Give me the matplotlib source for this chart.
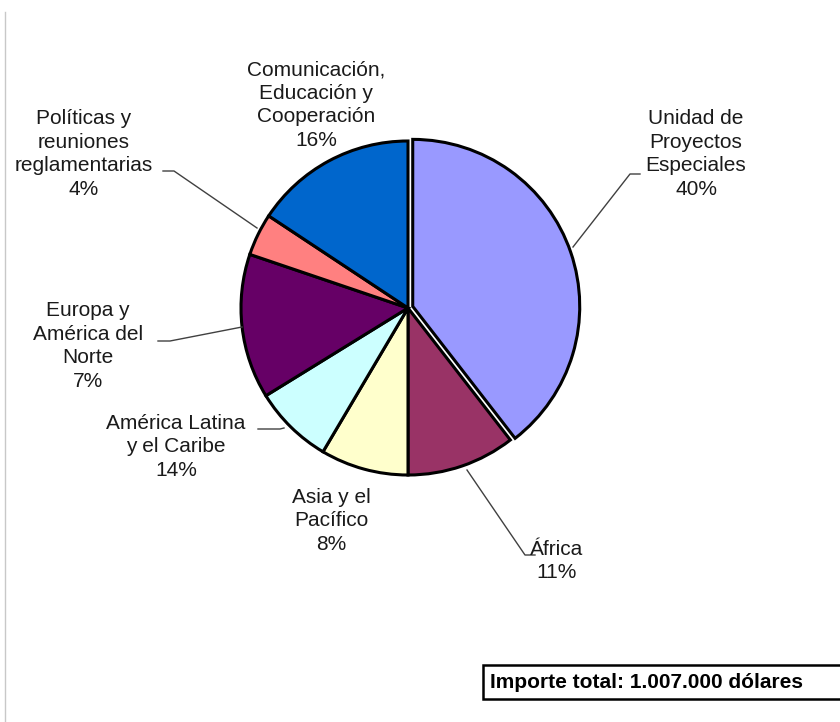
import matplotlib.pyplot as plt
from matplotlib.patches import Rectangle

plt.rcParams['font.family'] = ['Liberation Sans', 'DejaVu Sans']

# slice shares (clockwise from 12 o'clock)
shares = [39.5, 10.5, 8.5, 7.7, 14.0, 4.1, 15.7]
colors = ['#9999FF', '#993366', '#FFFFCC', '#CCFFFF', '#660066', '#FF8080', '#0066CC']
# label texts exactly as printed in the chart
labels = ['Unidad de\nProyectos\nEspeciales\n40%',
          'África\n11%',
          'Asia y el\nPacífico\n8%',
          'América Latina\ny el Caribe\n14%',
          'Europa y\nAmérica del\nNorte\n7%',
          'Políticas y\nreuniones\nreglamentarias\n4%',
          'Comunicación,\nEducación y\nCooperación\n16%']
total_text = 'Importe total: 1.007.000 dólares'

W, H = 840, 722
fig = plt.figure(figsize=(W / 100, H / 100), dpi=100)
ax = fig.add_axes([0, 0, 1, 1])


def Y(y):
    return H - y


ax.pie(shares, colors=colors, startangle=90, counterclock=False,
       center=(408, Y(308)), radius=167, explode=[5, 0, 0, 0, 0, 0, 0],
       wedgeprops=dict(edgecolor='black', linewidth=2.2), frame=True)
ax.set_xlim(0, W)
ax.set_ylim(0, H)
ax.set_aspect('equal')
ax.axis('off')

# label positions (center of text block) and leader lines, in pixel coords
label_pos = [(696, 154), (557, 561), (331, 521), (176, 447),
             (88, 346), (84, 154), (316, 105)]
leaders = [[(573, 247), (630, 174), (640, 174)],
           [(467, 470), (525, 555), (535, 555)],
           None,
           [(258, 429), (280, 429), (284, 428)],
           [(158, 341), (170, 341), (242, 327)],
           [(163, 171), (174, 171), (257, 228)],
           None]

for lab, (x, y), ld in zip(labels, label_pos, leaders):
    ax.text(x, Y(y), lab, ha='center', va='center', fontsize=15,
            color='#1a1a1a', linespacing=1.3)
    if ld:
        ax.plot([p[0] for p in ld], [Y(p[1]) for p in ld],
                color='#404040', lw=1)

# faint frame line at left
ax.plot([5, 5], [Y(12), Y(722)], color='#c8c8c8', lw=1)

# total box, running off the right edge
ax.add_patch(Rectangle((483, Y(699)), 400, 34, facecolor='white',
                       edgecolor='black', linewidth=1.8))
ax.text(490, Y(682), total_text, ha='left', va='center', fontsize=15,
        fontweight='bold', color='black')

fig.savefig('out.png', dpi=100)
